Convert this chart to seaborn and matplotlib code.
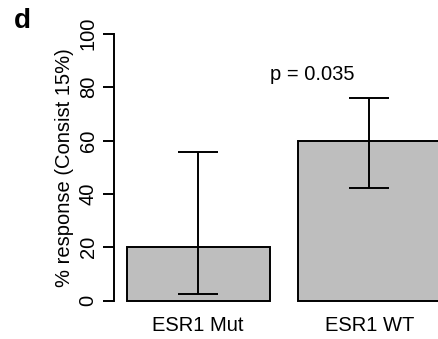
import numpy as np
import pandas as pd
import matplotlib
matplotlib.use("Agg")
import matplotlib.pyplot as plt
import seaborn as sns

categories = ["ESR1 Mut", "ESR1 WT"]
response = [20.0, 60.0]
ci_lower = [2.5, 42.1]
ci_upper = [55.6, 76.1]
y_ticks = [0, 20, 40, 60, 80, 100]
p_label = "p = 0.035"

sns.set_style("white")
plt.rcParams["font.family"] = ["Liberation Sans", "DejaVu Sans"]

W, H = 439, 339
fig = plt.figure(figsize=(W / 100, H / 100), dpi=100)

# axes placement in pixels
ymin, ymax = -4, 104
px_per_unit_y = 2.67
y0_px_from_bottom = H - 300.7
ax_bottom = y0_px_from_bottom - (0 - ymin) * px_per_unit_y
ax_top = y0_px_from_bottom + (ymax - 0) * px_per_unit_y
ax_left = 114.3
ax = fig.add_axes([ax_left / W, ax_bottom / H, (W - ax_left) / W, (ax_top - ax_bottom) / H])

df = pd.DataFrame({"group": categories, "resp": response})
sns.barplot(data=df, x="group", y="resp", color="#BEBEBE", saturation=1,
            edgecolor="black", linewidth=1.4, width=1 / 1.2, errorbar=None, ax=ax)

resp = np.array(response)
yerr = np.vstack([resp - np.array(ci_lower), np.array(ci_upper) - resp])
ax.errorbar(x=np.arange(len(categories)), y=resp, yerr=yerr, fmt="none",
            ecolor="black", elinewidth=1.4, capsize=14.4, capthick=1.4, zorder=5)

px_per_unit_x = 171.4
c0 = 198.1
ax.set_xlim((ax_left - c0) / px_per_unit_x, (W - c0) / px_per_unit_x)
ax.set_ylim(ymin, ymax)

for s in ["top", "right", "bottom"]:
    ax.spines[s].set_visible(False)
ax.spines["left"].set_bounds(0, 100)
ax.spines["left"].set_linewidth(1.4)
ax.spines["left"].set_color("black")

ax.set_yticks(y_ticks)
ax.set_yticklabels([str(t) for t in y_ticks], rotation=90, va="center")
ax.tick_params(axis="y", length=8, width=1.4, color="black", labelsize=14.5,
               pad=4, left=True, labelcolor="black")
ax.tick_params(axis="x", length=0, labelsize=14.5, pad=3.5, labelcolor="black")
ax.set_xlabel("")
ax.set_ylabel("% response (Consist 15%)", fontsize=14.5, va="center", color="black")
ax.yaxis.set_label_coords((64 - ax_left) / (W - ax_left), 0.5)

ax.text((312 - c0) / px_per_unit_x, (300.7 - 79.5) / px_per_unit_y, p_label,
        ha="center", va="baseline", fontsize=14.5, color="black")

fig.text(14 / W, 1 - 28 / H, "d", ha="left", va="baseline", fontsize=20,
         fontweight="bold", color="black")

fig.savefig("out.png", dpi=100)
